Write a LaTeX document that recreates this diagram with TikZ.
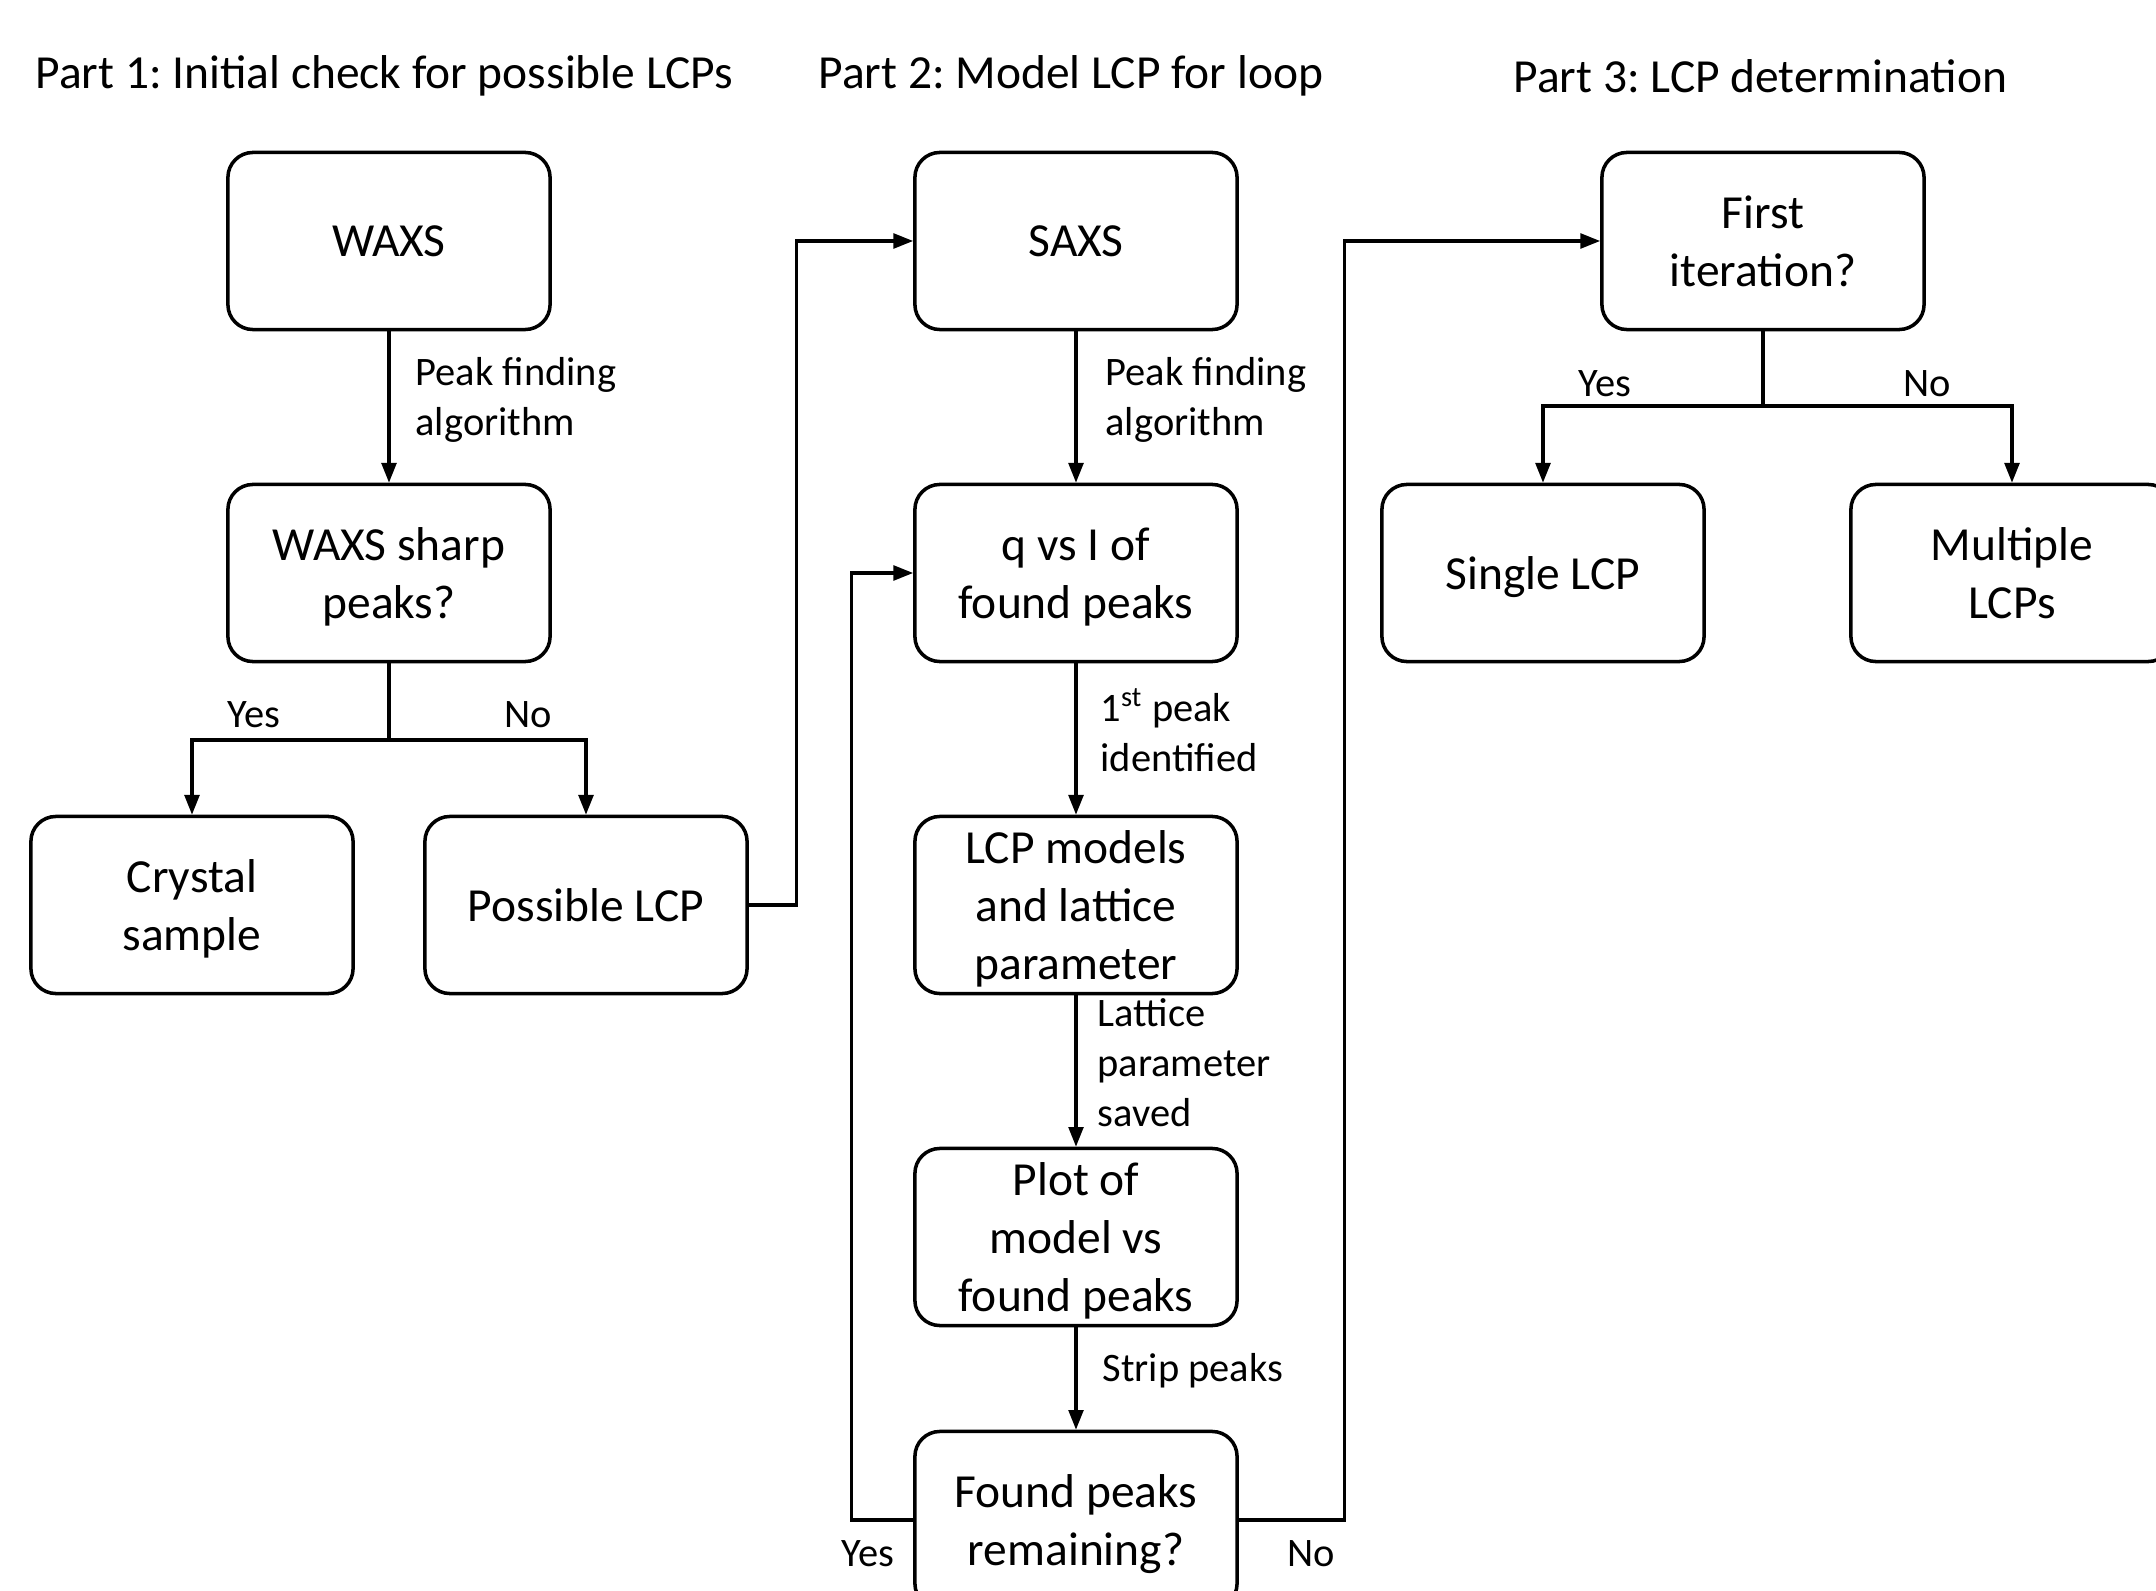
\documentclass[tikz,border=0pt]{standalone}
\usepackage{fontspec}
\setmainfont{Carlito}
\frenchspacing
\usetikzlibrary{arrows.meta}

\begin{document}
\begin{tikzpicture}[x=0.01cm, y=-0.01cm,
  box/.style={draw, line width=1pt, rounded corners=0.25cm, minimum width=3.22cm,
    minimum height=1.77cm, inner sep=2pt, align=center, text depth=0pt,
    font=\fontsize{13.5}{16.4}\selectfont},
  lbl/.style={anchor=west, align=left, inner sep=0pt,
    font=\fontsize{11.5}{14.2}\selectfont},
  title/.style={anchor=west, inner sep=0pt, font=\fontsize{13.5}{16}\selectfont},
  arr/.style={-{Triangle[length=5.6pt, width=4.2pt]}},
  every path/.style={line width=0.9pt}]
  \useasboundingbox (0,0) rectangle (2156,1591);

  % titles of the three parts
  \node[title] (t1) at (34,76)   {Part 1: Initial check for possible LCPs};
  \node[title] (t2) at (817,76)  {Part 2: Model LCP for loop};
  \node[title] (t3) at (1512,76) {Part 3: LCP determination};

  % part 1
  \node[box] (waxs)     at (389,241) {WAXS};
  \node[box] (sharp)    at (389,573) {WAXS sharp\\peaks?};
  \node[box] (crystal)  at (192,905) {Crystal\\sample};
  \node[box] (possible) at (586,905) {Possible LCP};

  % part 2
  \node[box] (saxs)   at (1076,241)  {SAXS};
  \node[box] (qvsi)   at (1076,573)  {q vs I of\\found peaks};
  \node[box] (models) at (1076,905)  {LCP models\\and lattice\\parameter};
  \node[box] (plot)   at (1076,1237) {Plot of\\model vs\\found peaks};
  \node[box] (remain) at (1076,1520) {Found peaks\\remaining?};

  % part 3
  \node[box] (first)    at (1763,241) {First\\iteration?};
  \node[box] (single)   at (1543,573) {Single LCP};
  \node[box] (multiple) at (2012,573) {Multiple\\LCPs};

  % vertical arrows with their labels
  \draw[arr] (waxs) -- (sharp);
  \node[lbl] (l1) at (414,400) {Peak finding\\algorithm};
  \draw[arr] (saxs) -- (qvsi);
  \node[lbl] (l2) at (1104,400) {Peak finding\\algorithm};
  \draw[arr] (qvsi) -- (models);
  \node[lbl] (l3) at (1099,730) {1\textsuperscript{st} peak\\identified};
  \draw[arr] (models) -- (plot);
  \node[lbl] (l4) at (1096,1063) {Lattice\\parameter\\saved};
  \draw[arr] (plot) -- (remain);
  \node[lbl] (l5) at (1101,1371) {Strip peaks};

  % yes / no splits
  \coordinate (split1) at (389,740);
  \draw (sharp) -- (split1);
  \draw[arr] (split1) -| (crystal);
  \draw[arr] (split1) -| (possible);
  \node[lbl] (y1) at (226,715) {Yes};
  \node[lbl] (n1) at (503,715) {No};

  \coordinate (split2) at (1763,406);
  \draw (first) -- (split2);
  \draw[arr] (split2) -| (single);
  \draw[arr] (split2) -| (multiple);
  \node[lbl] (y2) at (1577,384) {Yes};
  \node[lbl] (n2) at (1902,384) {No};

  % links between the parts
  \draw[arr] (possible.east) -- ++(48,0) |- (saxs.west);
  \draw[arr] (remain.west) -- ++(-62,0) |- (qvsi.west);
  \draw[arr] (remain.east) -- ++(106,0) |- (first.west);
  \node[lbl] (y3) at (840,1554) {Yes};
  \node[lbl] (n3) at (1286,1554) {No};
\end{tikzpicture}
\end{document}
